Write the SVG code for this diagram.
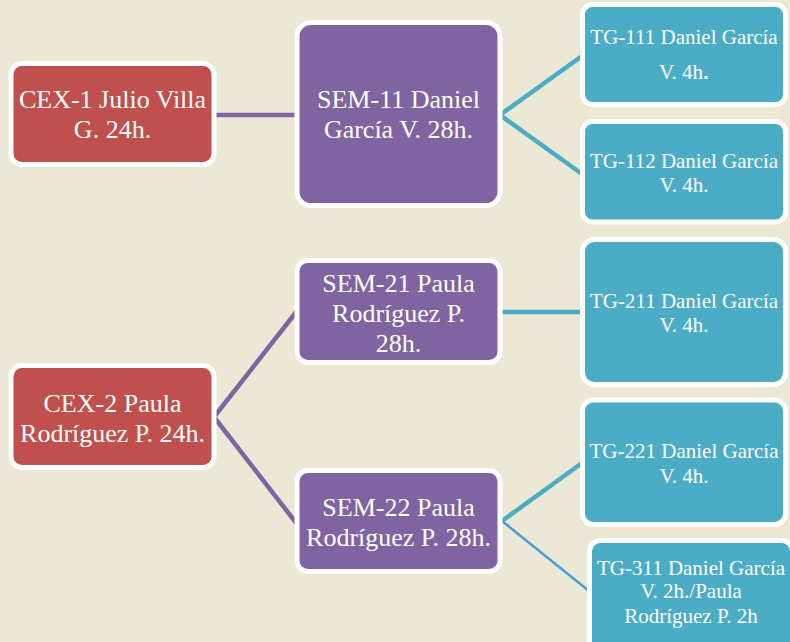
<svg xmlns="http://www.w3.org/2000/svg" width="790" height="642" viewBox="0 0 790 642" font-family="'Liberation Serif', 'Times New Roman', serif">
<defs>
<style>
.bg{fill:#EBE9D6}
.box{stroke:#FFFFFF;stroke-width:5}
.red{fill:#C0504D}
.pur{fill:#8064A2}
.teal{fill:#4BACC6}
.lbl{fill:#FFFFFF;text-anchor:middle}
.big{font-size:26px}
.small{font-size:21px}
.cp{stroke:#8064A2;stroke-width:4.5;fill:none}
.ct{stroke:#4BACC6;stroke-width:4.5;fill:none}
.cb{stroke:#4F9CD8;stroke-width:2.5;fill:none}
</style>
</defs>
<rect class="bg" x="0" y="0" width="790" height="642"/>
<g id="connectors">
<line class="cp" x1="214" y1="115" x2="297" y2="115"/>
<line class="cp" x1="214" y1="417" x2="297" y2="311"/>
<line class="cp" x1="214" y1="417" x2="297" y2="524"/>
<polyline class="ct" points="582,56 500,115 582,174"/>
<line class="ct" x1="500" y1="312" x2="582" y2="312"/>
<polyline class="ct" points="582,463 502,521"/>
<line class="cb" x1="502" y1="521" x2="589" y2="591"/>
</g>
<g id="cex1">
<rect class="box red" x="11" y="63.5" width="203" height="101" rx="11"/>
<text class="lbl big" font-family="Liberation Serif, serif" x="112.5" y="108">CEX-1 Julio Villa</text>
<text class="lbl big" font-family="Liberation Serif, serif" x="112.5" y="138">G. 24h.</text>
</g>
<g id="sem11">
<rect class="box pur" x="297" y="22.5" width="203" height="183" rx="14"/>
<text class="lbl big" font-family="Liberation Serif, serif" x="398.5" y="108">SEM-11 Daniel</text>
<text class="lbl big" font-family="Liberation Serif, serif" x="398.5" y="138">García V. 28h.</text>
</g>
<g id="tg111">
<rect class="box teal" x="582.5" y="4.5" width="203" height="100" rx="10"/>
<text class="lbl small" font-family="Liberation Serif, serif" x="684" y="44">TG-111 Daniel García</text>
<text class="lbl small" font-family="Liberation Serif, serif" x="684" y="79">V. 4h<tspan font-family="Liberation Sans, sans-serif" font-weight="bold">.</tspan></text>
</g>
<g id="tg112">
<rect class="box teal" x="582.5" y="121.5" width="203" height="100.5" rx="10"/>
<text class="lbl small" font-family="Liberation Serif, serif" x="684" y="168">TG-112 Daniel García</text>
<text class="lbl small" font-family="Liberation Serif, serif" x="684" y="192">V. 4h.</text>
</g>
<g id="cex2">
<rect class="box red" x="11" y="365.5" width="203" height="102" rx="11"/>
<text class="lbl big" font-family="Liberation Serif, serif" x="112.5" y="412">CEX-2 Paula</text>
<text class="lbl big" font-family="Liberation Serif, serif" x="112.5" y="442">Rodríguez P. 24h.</text>
</g>
<g id="sem21">
<rect class="box pur" x="297" y="260.5" width="203" height="102" rx="11"/>
<text class="lbl big" font-family="Liberation Serif, serif" x="398.5" y="292">SEM-21 Paula</text>
<text class="lbl big" font-family="Liberation Serif, serif" x="398.5" y="322">Rodríguez P.</text>
<text class="lbl big" font-family="Liberation Serif, serif" x="398.5" y="352">28h.</text>
</g>
<g id="tg211">
<rect class="box teal" x="582.5" y="239.5" width="203" height="145" rx="12"/>
<text class="lbl small" font-family="Liberation Serif, serif" x="684" y="308">TG-211 Daniel García</text>
<text class="lbl small" font-family="Liberation Serif, serif" x="684" y="332">V. 4h.</text>
</g>
<g id="sem22">
<rect class="box pur" x="297" y="470.5" width="203" height="101" rx="11"/>
<text class="lbl big" font-family="Liberation Serif, serif" x="398.5" y="516">SEM-22 Paula</text>
<text class="lbl big" font-family="Liberation Serif, serif" x="398.5" y="546">Rodríguez P. 28h.</text>
</g>
<g id="tg221">
<rect class="box teal" x="582.5" y="400" width="203" height="124.5" rx="11"/>
<text class="lbl small" font-family="Liberation Serif, serif" x="684" y="458">TG-221 Daniel García</text>
<text class="lbl small" font-family="Liberation Serif, serif" x="684" y="483">V. 4h.</text>
</g>
<g id="tg311">
<rect class="box teal" x="589.5" y="540.5" width="203" height="120" rx="11"/>
<text class="lbl small" font-family="Liberation Serif, serif" x="691" y="575">TG-311 Daniel García</text>
<text class="lbl small" font-family="Liberation Serif, serif" x="691" y="598">V. 2h./Paula</text>
<text class="lbl small" font-family="Liberation Serif, serif" x="691" y="623">Rodríguez P. 2h</text>
</g>
</svg>
